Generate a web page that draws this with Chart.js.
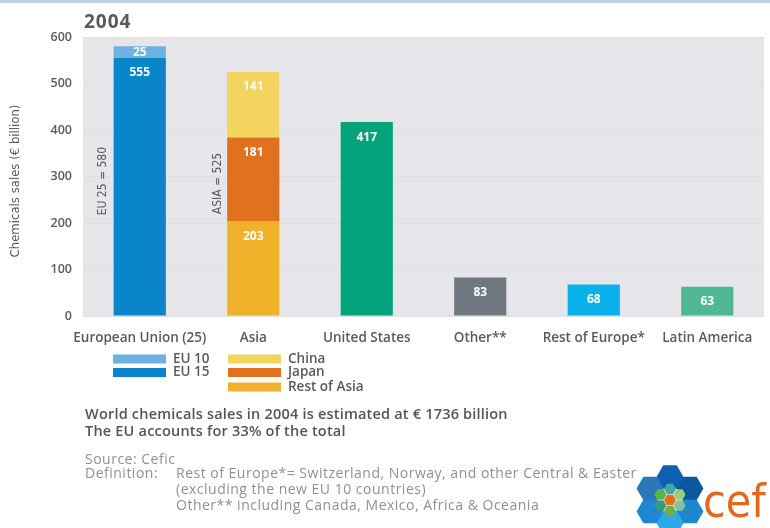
<!DOCTYPE html>
<html>
<head>
<meta charset="utf-8">
<script src="https://cdn.jsdelivr.net/npm/chart.js@4.4.0/dist/chart.umd.min.js"></script>
<style>
  html, body { margin: 0; padding: 0; background: #fff; }
  #wrap { width: 770px; height: 528px; position: relative; }
</style>
</head>
<body>
<div id="wrap"><canvas id="myChart" width="770" height="528"></canvas></div>
<script>
// data (€ billion, 2004)
const regions = ['European Union (25)', 'Asia', 'United States', 'Other**', 'Rest of Europe*', 'Latin America'];
const eu15 = [555, null, null, null, null, null];
const eu10 = [25, null, null, null, null, null];
const restOfAsia = [null, 203, null, null, null, null];
const japan = [null, 181, null, null, null, null];
const china = [null, 141, null, null, null, null];
const otherRegions = [null, null, 417, 83, 68, 63];
const otherColors = ['#000', '#000', '#04a37b', '#6f7780', '#08b1e9', '#4fb795'];
const yTicks = [0, 100, 200, 300, 400, 500, 600];

const grey = '#5a5a5a';
const fontMain = "'Open Sans', 'Noto Sans', sans-serif";
const fontNarrow = "'Liberation Sans Narrow', 'DejaVu Sans Condensed', sans-serif";

const decor = {
    id: 'decor',
    beforeDraw(chart) {
        const c = chart.ctx, a = chart.chartArea;
        c.save();
        c.fillStyle = '#bdd1e6';
        c.fillRect(0, 0, 770, 3);
        c.fillStyle = '#e6e6ea';
        c.fillRect(a.left, a.top, a.right - a.left, a.bottom - a.top);
        c.restore();
    },
    afterDatasetsDraw(chart) {
        const c = chart.ctx;
        c.save();
        // values inside the bars
        c.fillStyle = '#fff';
        c.font = "bold 12px " + fontMain;
        c.textAlign = 'center';
        c.textBaseline = 'middle';
        chart.data.datasets.forEach(function(ds, i) {
            const meta = chart.getDatasetMeta(i);
            meta.data.forEach(function(bar, j) {
                const v = ds.data[j];
                if (v == null) return;
                const h = bar.base - bar.y;
                const y = h < 20 ? bar.y + h / 2 : bar.y + 15;
                c.fillText(v, bar.x, y);
            });
        });
        // rotated totals
        const ys = chart.scales.y;
        c.fillStyle = grey;
        c.font = "12px " + fontNarrow;
        c.save();
        c.translate(103, ys.getPixelForValue(290));
        c.rotate(-Math.PI / 2);
        c.fillText('EU 25 = 580', 0, 0);
        c.restore();
        c.save();
        c.translate(218, ys.getPixelForValue(285));
        c.rotate(-Math.PI / 2);
        c.fillText('ASIA = 525', 0, 0);
        c.restore();
        c.restore();
    },
    afterDraw(chart) {
        const c = chart.ctx;
        c.save();
        c.textBaseline = 'middle';
        c.textAlign = 'left';
        // title
        c.fillStyle = grey;
        c.font = "bold 19px " + fontMain;
        c.letterSpacing = '1px';
        c.fillText('2004', 84, 23);
        c.letterSpacing = '0px';
        // y title
        c.save();
        c.font = "13px " + fontNarrow;
        c.translate(16, 181);
        c.rotate(-Math.PI / 2);
        c.textAlign = 'center';
        c.fillText('Chemicals sales (€ billion)', 0, 0);
        c.restore();
        // legend
        const leg = [
            [113, 359, '#6db2e0', 'EU 10'],
            [113, 372.5, '#0a84cb', 'EU 15'],
            [228, 359, '#f2d45e', 'China'],
            [228, 372.5, '#e1701f', 'Japan'],
            [228, 387, '#efb22a', 'Rest of Asia']
        ];
        c.font = "600 13.5px " + fontMain;
        leg.forEach(function(l) {
            c.fillStyle = l[2];
            c.fillRect(l[0], l[1] - 4.5, 53, 9);
            c.fillStyle = grey;
            c.fillText(l[3], l[0] + 60, l[1]);
        });
        // notes
        c.font = "600 14.5px " + fontMain;
        c.letterSpacing = '0.2px';
        c.fillStyle = '#555';
        c.fillText('World chemicals sales in 2004 is estimated at € 1736 billion', 85, 415);
        c.fillText('The EU accounts for 33% of the total', 85, 432);
        c.font = "14px " + fontMain;
        c.letterSpacing = '0.5px';
        c.fillStyle = '#909090';
        c.fillText('Source: Cefic', 85, 460);
        c.fillText('Definition:', 85, 474);
        c.fillText('Rest of Europe*= Switzerland, Norway, and other Central & Eastern Europe', 176, 474);
        c.fillText('(excluding the new EU 10 countries)', 176, 490);
        c.fillText('Other** including Canada, Mexico, Africa & Oceania', 176, 506);
        c.letterSpacing = '0px';
        // logo
        c.fillStyle = '#fff';
        c.fillRect(637, 466, 133, 62);
        const hex = function(x, y, r, col) {
            c.beginPath();
            for (let k = 0; k < 6; k++) {
                const ang = k * Math.PI / 3;
                const px = x + r * Math.cos(ang), py = y + r * Math.sin(ang);
                if (k === 0) c.moveTo(px, py); else c.lineTo(px, py);
            }
            c.closePath();
            c.fillStyle = col;
            c.fill();
        };
        const cx = 670, cy = 500;
        const outer = ['#1060b0', '#0a58a0', '#1d86cc', '#29a9e6', '#1f86d2', '#2a78b8'];
        for (let k = 0; k < 6; k++) {
            const ang = -Math.PI / 2 + k * Math.PI / 3;
            hex(cx + 23 * Math.cos(ang), cy + 23 * Math.sin(ang), 13.5, outer[k]);
        }
        const inner = ['#3fa9a0', '#9ccc78', '#7fc49a', '#6fb04a', '#3a9a80', '#5fae50'];
        for (let k = 0; k < 6; k++) {
            const ang = -Math.PI / 2 + k * Math.PI / 3;
            hex(cx + 11 * Math.cos(ang), cy + 11 * Math.sin(ang), 6, inner[k]);
        }
        hex(cx, cy, 6, '#e0701f');
        c.fillStyle = '#e2691b';
        c.textBaseline = 'alphabetic';
        c.font = "46px " + fontNarrow;
        c.fillText('cef', 703, 517);
        c.restore();
    }
};

const config = {
    type: 'bar',
    data: {
        labels: regions,
        datasets: [
            { label: 'EU 15', data: eu15, backgroundColor: '#0a84cb' },
            { label: 'EU 10', data: eu10, backgroundColor: '#6db2e0' },
            { label: 'Rest of Asia', data: restOfAsia, backgroundColor: '#efb22a' },
            { label: 'Japan', data: japan, backgroundColor: '#e1701f' },
            { label: 'China', data: china, backgroundColor: '#f2d45e' },
            { label: 'Regions', data: otherRegions, backgroundColor: otherColors }
        ]
    },
    options: {
        responsive: false,
        animation: false,
        barPercentage: 0.46,
        categoryPercentage: 1,
        layout: { padding: { top: 37, right: 6, left: 0, bottom: 0 } },
        plugins: {
            legend: { display: false },
            tooltip: { enabled: false }
        },
        scales: {
            x: {
                stacked: true,
                grid: { display: false },
                border: { display: false },
                ticks: { color: grey, font: { family: fontMain, size: 13.5, weight: '600' }, padding: 6, maxRotation: 0, autoSkip: false },
                afterFit: function(s) { s.height = 212; }
            },
            y: {
                stacked: true,
                min: 0,
                max: 600,
                afterBuildTicks: function(s) { s.ticks = yTicks.map(function(v) { return { value: v }; }); },
                grid: { color: '#dedee3', drawTicks: false },
                border: { display: false },
                ticks: { color: grey, font: { family: fontMain, size: 12.5, weight: '600' }, padding: 11 },
                afterFit: function(s) { s.width = 83; }
            }
        }
    },
    plugins: [decor]
};

const ctx = document.getElementById('myChart').getContext('2d');
const myChart = new Chart(ctx, config);
</script>
</body>
</html>
